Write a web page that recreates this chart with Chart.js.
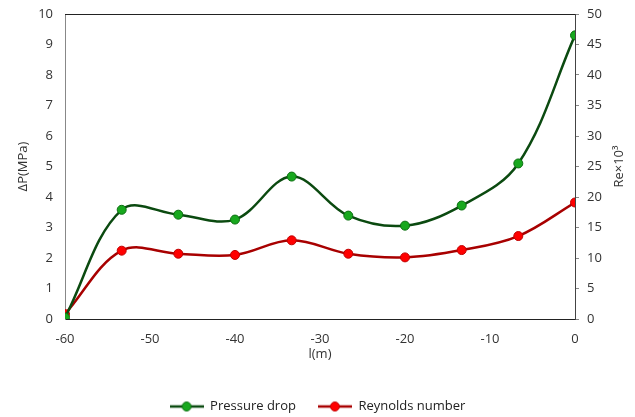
<!DOCTYPE html>
<html>
<head>
<meta charset="utf-8">
<script src="https://cdn.jsdelivr.net/npm/chart.js@4/dist/chart.umd.min.js"></script>
<style>
html,body{margin:0;padding:0;background:#fff;}
canvas{display:block;}
</style>
</head>
<body>
<canvas id="c" width="635" height="417"></canvas>
<script>
const positions = [-60, -53.33, -46.67, -40, -33.33, -26.67, -20, -13.33, -6.67, 0];
const pressureDrop = [0.05, 3.58, 3.42, 3.26, 4.67, 3.39, 3.06, 3.72, 5.1, 9.3];
const reynolds = [0.8, 11.2, 10.7, 10.5, 12.9, 10.7, 10.1, 11.3, 13.6, 19.1];
const seriesNames = ['Pressure drop', 'Reynolds number'];
const axisTitles = { x: 'l(m)', y: 'ΔP(MPa)', y2: 'Re×10³' };

const FONT = "'Open Sans', 'Liberation Sans', sans-serif";
const TXT = '#333';

function legendIcon(line, fill, border) {
  const cv = document.createElement('canvas');
  cv.width = 34; cv.height = 12;
  const g = cv.getContext('2d');
  g.strokeStyle = line; g.lineWidth = 2.5;
  g.beginPath(); g.moveTo(0, 6); g.lineTo(34, 6); g.stroke();
  g.fillStyle = fill; g.strokeStyle = border; g.lineWidth = 1;
  g.beginPath(); g.arc(17, 6, 4.5, 0, Math.PI * 2); g.fill(); g.stroke();
  return cv;
}
const icons = [legendIcon('#0b4a10', '#18a81e', '#0b6e10'), legendIcon('#a80000', '#ff0000', '#c00000')];

const extras = {
  id: 'extras',
  afterDatasetsDraw(chart) {
    const a = chart.chartArea, ctx = chart.ctx;
    ctx.save();
    ctx.strokeStyle = '#222'; ctx.lineWidth = 1;
    ctx.beginPath(); ctx.moveTo(a.left, a.top + 0.5); ctx.lineTo(a.right, a.top + 0.5); ctx.stroke();
    // right axis title, reading bottom-to-top like the reference
    ctx.fillStyle = TXT;
    ctx.font = '13px ' + FONT;
    ctx.textAlign = 'center'; ctx.textBaseline = 'middle';
    ctx.translate(619, (a.top + a.bottom) / 2);
    ctx.rotate(-Math.PI / 2);
    ctx.fillText(axisTitles.y2, 0, 0);
    ctx.restore();
  }
};

function fitVertical(width) {
  return function (s) { s.width = width; s.paddingTop = 0; s.paddingBottom = 0; };
}

new Chart(document.getElementById('c'), {
  type: 'line',
  data: {
    datasets: [
      {
        label: seriesNames[0],
        data: positions.map((x, i) => ({x, y: pressureDrop[i]})),
        yAxisID: 'y',
        borderColor: '#0b4a10', borderWidth: 2.5,
        pointBackgroundColor: '#18a81e', pointBorderColor: '#0b6e10', pointBorderWidth: 1,
        pointRadius: 4.5, tension: 0.36, fill: false
      },
      {
        label: seriesNames[1],
        data: positions.map((x, i) => ({x, y: reynolds[i]})),
        yAxisID: 'y2',
        borderColor: '#a80000', borderWidth: 2.5,
        pointBackgroundColor: '#ff0000', pointBorderColor: '#c00000', pointBorderWidth: 1,
        pointRadius: 4.5, tension: 0.36, fill: false
      }
    ]
  },
  options: {
    responsive: false,
    animation: false,
    layout: { autoPadding: false, padding: { top: 14, left: 0, right: 0, bottom: -6 } },
    plugins: {
      tooltip: { enabled: false },
      legend: {
        position: 'bottom',
        labels: {
          usePointStyle: true,
          pointStyleWidth: 34,
          padding: 22,
          font: { family: FONT, size: 13 },
          color: '#222',
          generateLabels(chart) {
            return chart.data.datasets.map((d, i) => ({
              text: d.label, pointStyle: icons[i], datasetIndex: i,
              fillStyle: 'transparent', strokeStyle: 'transparent', fontColor: '#222'
            }));
          }
        }
      }
    },
    scales: {
      x: {
        type: 'linear', min: -60, max: 0,
        ticks: { stepSize: 10, font: { family: FONT, size: 13 }, color: TXT, padding: 12 },
        grid: { display: false, drawTicks: false },
        border: { color: '#222', width: 1 },
        title: { display: true, text: axisTitles.x, font: { family: FONT, size: 13 }, color: TXT, padding: { top: 0, bottom: 16 } },
        afterFit(s) { s.height = 59; }
      },
      y: {
        position: 'left', min: 0, max: 10,
        ticks: { stepSize: 1, font: { family: FONT, size: 13 }, color: TXT, padding: 12 },
        grid: { display: false, drawTicks: false },
        border: { color: '#888', width: 1 },
        title: { display: true, text: axisTitles.y, font: { family: FONT, size: 13 }, color: TXT, padding: { top: 15, bottom: 0 } },
        afterFit: fitVertical(65)
      },
      y2: {
        position: 'right', min: 0, max: 50,
        ticks: { stepSize: 5, font: { family: FONT, size: 13 }, color: TXT, padding: 8 },
        grid: { drawOnChartArea: false, drawTicks: true, tickLength: 4, color: '#888' },
        border: { color: '#444', width: 1 },
        title: { display: false },
        afterFit: fitVertical(60)
      }
    }
  },
  plugins: [extras]
});
</script>
</body>
</html>
